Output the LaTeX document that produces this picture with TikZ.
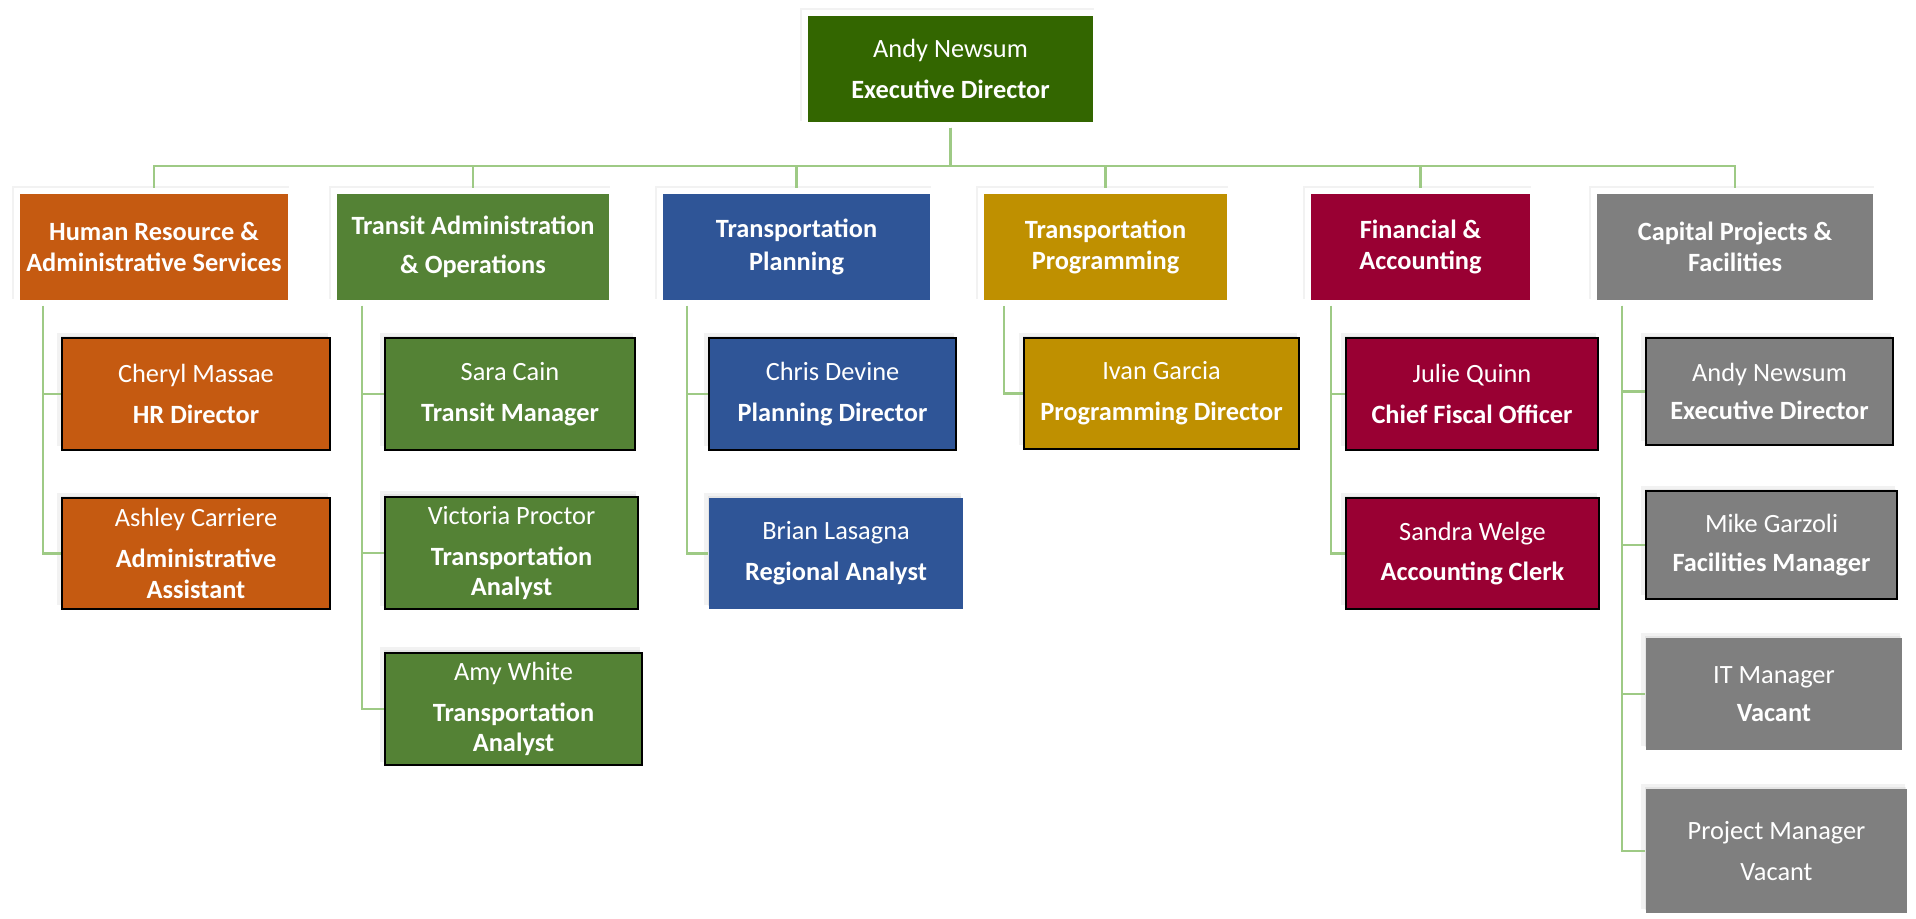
\documentclass[tikz,border=0pt]{standalone}
\usepackage{fontspec}
\setmainfont{Carlito}
\usetikzlibrary{shadows}
\definecolor{execc}{RGB}{51,102,0}
\definecolor{hrc}{RGB}{197,90,17}
\definecolor{tac}{RGB}{84,130,53}
\definecolor{tpc}{RGB}{47,85,151}
\definecolor{pgc}{RGB}{191,144,0}
\definecolor{fac}{RGB}{153,0,51}
\definecolor{cpc}{RGB}{127,127,127}
\definecolor{linkc}{RGB}{158,202,133}
\begin{document}
\begin{tikzpicture}[x=0.02cm,y=-0.02cm,
  every node/.style={text=white,align=center,inner sep=0pt,font=\fontsize{15}{17.5}\selectfont},
  soft/.style={drop shadow={opacity=.12,shadow xshift=-.03cm,shadow yshift=.05cm},
    drop shadow={opacity=.1,shadow xshift=-.07cm,shadow yshift=.09cm,shadow scale=1.01}},
  head/.style={draw=white,line width=.12cm,minimum height=2.24cm,soft},
  dept/.style={head,font=\fontsize{15}{17.5}\selectfont\bfseries},
  staff/.style={draw=black,line width=.04cm,minimum height=2.24cm,soft},
  vacant/.style={staff,draw=none},
  link/.style={draw=linkc,line width=.05cm}]
\useasboundingbox (0,0) rectangle (1916,919);
%\draw[help lines] (0,0) grid[step=1cm] (1916,919);
\node[head,fill=execc,minimum width=5.82cm] (top) at (950.5,69) {Andy Newsum\\[6.3pt]\textbf{Executive Director}};
\node[dept,fill=hrc,minimum width=5.48cm] (hr) at (154,247) {Human Resource \&\\Administrative Services};
\node[dept,fill=tac,minimum width=5.56cm] (ta) at (473,247) {Transit Administration\\[5pt]\& Operations};
\node[dept,fill=tpc,minimum width=5.46cm] (tp) at (796.5,247) {Transportation\\[1.5pt]Planning};
\node[dept,fill=pgc,minimum width=4.98cm] (pg) at (1105.5,247) {Transportation\\Programming};
\node[dept,fill=fac,minimum width=4.5cm] (fa) at (1420.5,247) {Financial \&\\Accounting};
\node[dept,fill=cpc,minimum width=5.64cm] (cp) at (1735,247) {Capital Projects \&\\Facilities};
\node[staff,fill=hrc,minimum width=5.36cm] (hr1) at (196,394) {Cheryl Massae\\[5.7pt]\textbf{HR Director}};
\node[staff,fill=hrc,minimum width=5.36cm,minimum height=2.22cm] (hr2) at (196,553.5) {Ashley Carriere\\[5.7pt]\textbf{Administrative}\\\textbf{Assistant}};
\node[staff,fill=tac,minimum width=5cm] (ta1) at (510,394) {Sara Cain\\[5.7pt]\textbf{Transit Manager}};
\node[staff,fill=tac,minimum width=5.06cm,minimum height=2.26cm] (ta2) at (511.5,553) {Victoria Proctor\\[5.7pt]\textbf{Transportation}\\\textbf{Analyst}};
\node[staff,fill=tac,minimum width=5.14cm,minimum height=2.26cm] (ta3) at (513.5,709) {Amy White\\[5.7pt]\textbf{Transportation}\\\textbf{Analyst}};
\node[staff,fill=tpc,minimum width=4.94cm] (tp1) at (832.5,394) {Chris Devine\\[5.7pt]\textbf{Planning Director}};
\node[vacant,fill=tpc,minimum width=5.08cm,minimum height=2.22cm] (tp2) at (836,553.5) {Brian Lasagna\\[5.7pt]\textbf{Regional Analyst}};
\node[staff,fill=pgc,minimum width=5.5cm,minimum height=2.22cm] (pg1) at (1161.5,393.5) {Ivan Garcia\\[5.7pt]\textbf{Programming Director}};
\node[staff,fill=fac,minimum width=5.04cm] (fa1) at (1472,394) {Julie Quinn\\[5.7pt]\textbf{Chief Fiscal Officer}};
\node[staff,fill=fac,minimum width=5.06cm,minimum height=2.22cm] (fa2) at (1472.5,553.5) {Sandra Welge\\[5.7pt]\textbf{Accounting Clerk}};
\node[staff,fill=cpc,minimum width=4.94cm,minimum height=2.14cm] (cp1) at (1769.5,391.5) {Andy Newsum\\[4.5pt]\textbf{Executive Director}};
\node[staff,fill=cpc,minimum width=5.02cm,minimum height=2.16cm] (cp2) at (1771.5,545) {Mike Garzoli\\[4.5pt]\textbf{Facilities Manager}};
\node[vacant,fill=cpc,minimum width=5.12cm] (cp3) at (1774,694) {IT Manager\\[4pt]\textbf{Vacant}};
\node[vacant,fill=cpc,minimum width=5.22cm,minimum height=2.48cm] (cp4) at (1776.5,851) {Project Manager\\[5.7pt]Vacant};
\draw[link] (top.south) -- ++(0,38) -| (hr.north);
\draw[link] (top.south) -- ++(0,38) -| (ta.north);
\draw[link] (top.south) -- ++(0,38) -| (tp.north);
\draw[link] (top.south) -- ++(0,38) -| (pg.north);
\draw[link] (top.south) -- ++(0,38) -| (fa.north);
\draw[link] (top.south) -- ++(0,38) -| (cp.north);
\draw[link] ([xshift=.58cm]hr.south west) |- (hr1.west);
\draw[link] ([xshift=.58cm]hr.south west) |- (hr2.west);
\draw[link] ([xshift=.62cm]ta.south west) |- (ta1.west);
\draw[link] ([xshift=.62cm]ta.south west) |- (ta2.west);
\draw[link] ([xshift=.62cm]ta.south west) |- (ta3.west);
\draw[link] ([xshift=.6cm]tp.south west) |- (tp1.west);
\draw[link] ([xshift=.6cm]tp.south west) |- (tp2.west);
\draw[link] ([xshift=.52cm]pg.south west) |- (pg1.west);
\draw[link] ([xshift=.52cm]fa.south west) |- (fa1.west);
\draw[link] ([xshift=.52cm]fa.south west) |- (fa2.west);
\draw[link] ([xshift=.62cm]cp.south west) |- (cp1.west);
\draw[link] ([xshift=.62cm]cp.south west) |- (cp2.west);
\draw[link] ([xshift=.62cm]cp.south west) |- (cp3.west);
\draw[link] ([xshift=.62cm]cp.south west) |- (cp4.west);
\end{tikzpicture}
\end{document}
